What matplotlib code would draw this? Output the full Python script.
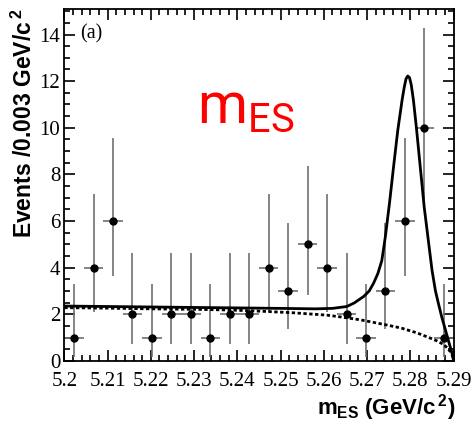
import matplotlib
matplotlib.use("Agg")
import matplotlib.pyplot as plt
from matplotlib.ticker import MultipleLocator
import numpy as np

# binned data (bin width 0.0045 GeV)
bin_lo = 5.2
bin_width = 0.0045
counts = [1, 4, 6, 2, 1, 2, 2, 1, 2, 2, 4, 3, 5, 4, 2, 1, 3, 6, 10, 1]
# asymmetric (Poisson) error bar ends
poisson_lo = {1: 0.17, 2: 0.71, 3: 1.37, 4: 2.09, 5: 2.84, 6: 3.62, 10: 6.89}
poisson_hi = {1: 3.30, 2: 4.64, 3: 5.92, 4: 7.16, 5: 8.38, 6: 9.58, 10: 14.27}

# total fit curve
fit_x = [5.2000, 5.2100, 5.2200, 5.2300, 5.2400, 5.2500, 5.2580, 5.2620, 5.2653,
         5.2670, 5.2692, 5.2705, 5.2715, 5.2725, 5.2734, 5.2742, 5.2752, 5.2761,
         5.2771, 5.2781, 5.2786, 5.2790, 5.2794, 5.2798, 5.2802, 5.2807, 5.2814,
         5.2823, 5.2832, 5.2840, 5.2850, 5.2858, 5.2865, 5.2873, 5.2881, 5.2889,
         5.2896, 5.2900]
fit_y = [2.35, 2.33, 2.31, 2.29, 2.27, 2.25, 2.23, 2.25, 2.33,
         2.48, 2.76, 3.00, 3.33, 3.75, 4.30, 5.30, 6.80, 8.30,
         9.90, 11.20, 11.75, 12.10, 12.22, 12.15, 11.85, 11.20, 10.00,
         8.30, 6.60, 5.40, 3.90, 3.00, 2.45, 1.85, 1.33, 0.80,
         0.35, 0.00]

# background (ARGUS) curve
bkg_x = [5.2000, 5.2100, 5.2200, 5.2300, 5.2383, 5.2453, 5.2530, 5.2607, 5.2640,
         5.2684, 5.2720, 5.2742, 5.2780, 5.2815, 5.2840, 5.2862, 5.2877, 5.2885,
         5.2893, 5.2898, 5.2900]
bkg_y = [2.28, 2.26, 2.23, 2.21, 2.18, 2.13, 2.06, 1.96, 1.88,
         1.76, 1.63, 1.55, 1.40, 1.20, 1.02, 0.85, 0.70, 0.56,
         0.38, 0.20, 0.00]

centers = bin_lo + bin_width * (np.arange(len(counts)) + 0.5)
counts = np.array(counts)
err_lo = counts - np.array([poisson_lo[c] for c in counts])
err_hi = np.array([poisson_hi[c] for c in counts]) - counts

fig = plt.figure(figsize=(4.73, 4.23), dpi=100)
ax = fig.add_axes([0.136, 0.147, 0.823, 0.832])

ax.errorbar(centers, counts, xerr=bin_width / 2, yerr=[err_lo, err_hi],
            fmt='none', ecolor='#707070', elinewidth=1.2, capsize=0)
ax.plot(centers, counts, 'o', color='black', markersize=5, zorder=4)
ax.plot(fit_x, fit_y, '-', color='black', lw=2.0, zorder=3)
ax.plot(bkg_x, bkg_y, color='black', lw=2.0, linestyle=(0, (1.2, 0.9)), zorder=3)

ax.set_xlim(5.2, 5.29)
ax.set_ylim(0, 15.1)
ax.xaxis.set_major_locator(MultipleLocator(0.01))
ax.xaxis.set_minor_locator(MultipleLocator(0.002))
ax.yaxis.set_major_locator(MultipleLocator(2))
ax.yaxis.set_minor_locator(MultipleLocator(0.5))
ax.set_xticks(np.arange(5.2, 5.2901, 0.01))
ax.set_xticklabels(['5.2', '5.21', '5.22', '5.23', '5.24', '5.25', '5.26', '5.27', '5.28', '5.29'])

ax.tick_params(which='both', direction='in', top=True, right=True, width=1.2)
ax.tick_params(which='major', length=8)
ax.tick_params(which='minor', length=4.5)
ax.tick_params(axis='x', which='major', pad=8)
ax.tick_params(axis='y', which='major', pad=3)
for lab in ax.get_xticklabels() + ax.get_yticklabels():
    lab.set_family('Liberation Serif')
    lab.set_fontsize(15)
for sp in ax.spines.values():
    sp.set_linewidth(1.3)

ax.set_ylabel(r'Events /0.003 GeV/c$^{\,\mathregular{2}}$', family='Liberation Sans',
              fontweight='bold', fontsize=16.5, loc='top')
ax.yaxis.set_label_coords(-0.071, 1.0)
ax.set_xlabel(r'$\mathregular{m_{ES}}$ (GeV/c$^{\,\mathregular{2}}$)', family='Liberation Sans',
              fontweight='bold', fontsize=16, loc='right')
ax.xaxis.set_label_coords(1.005, -0.09)

ax.text(0.04, 0.915, '(a)', transform=ax.transAxes, family='Liberation Serif', fontsize=14.5)
ax.text(0.34, 0.675, r'$\mathregular{m_{ES}}$', transform=ax.transAxes, family='Roboto',
        fontsize=41, color='red', va='baseline')

fig.savefig('out.png', dpi=100)
